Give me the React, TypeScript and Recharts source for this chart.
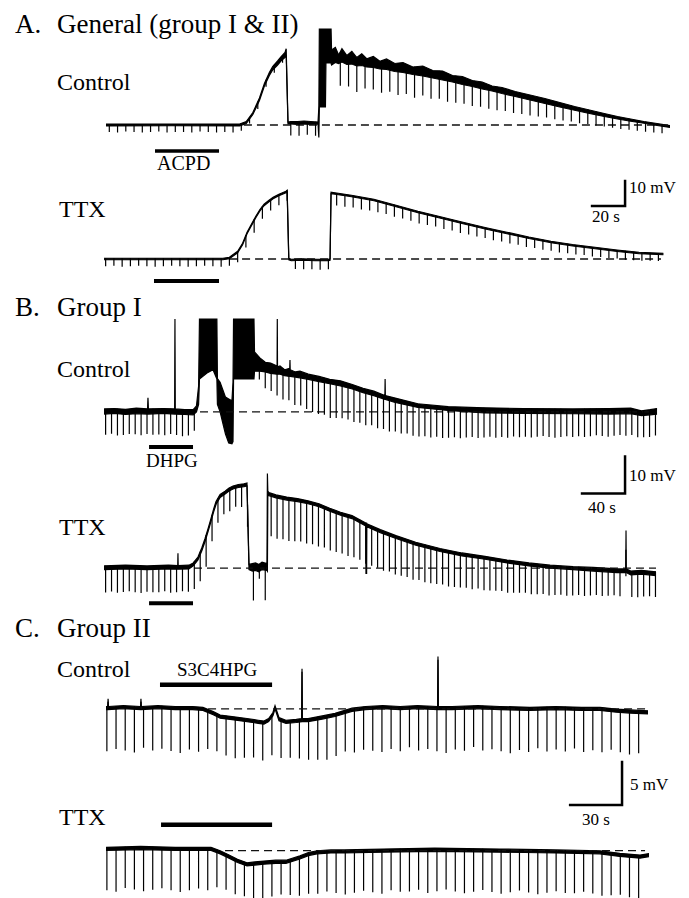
import React from "react";
import { ComposedChart, Area, Line, XAxis, YAxis } from "recharts";

const SERIF = "'Liberation Serif', 'Times New Roman', 'DejaVu Serif', serif";

// ---- A. General (group I & II): control ----  (time s, mV)
const aCtrlTime = [0, 40, 81, 85, 89, 93, 96, 99, 101, 104, 106, 108.5, 109.2, 110.3, 112, 116, 120, 124, 128.5, 129, 129.3, 133, 133.3, 136.4, 136.7, 139, 141, 143, 146, 149, 152, 155, 158, 162, 166, 170, 175, 180, 186, 192, 198, 204, 210, 216, 222, 228, 234, 240, 248, 257, 266, 275, 284, 293, 302, 310, 318, 326, 334, 342];
const aCtrlLow = [-0.4, -0.3, -0.4, 0.6, 4.2, 9.8, 15.6, 19.8, 22, 24, 25.6, 27, 28, 0.4, 0.4, 0.2, 0.4, 0.2, 0.4, -5, 7.2, 7.2, 24.8, 24.8, 24, 25, 24.6, 25.2, 24.2, 24.4, 23.6, 23.8, 23.2, 23, 22.4, 22.2, 21.4, 21, 20.2, 19.6, 18.8, 18, 17.2, 16.2, 15.4, 14.4, 13.6, 12.6, 11.4, 10, 8.6, 7.2, 5.9, 4.6, 3.4, 2.4, 1.5, 0.7, -0.2, -1];
const aCtrlHigh = [0.4, 0.4, 0.4, 1.4, 5, 10.8, 16.6, 21, 23.4, 25.6, 27.2, 29, 30.5, 1.2, 1.4, 1.4, 1.6, 1.4, 1.2, 7, 38.4, 38.4, 38.4, 38.4, 30, 31, 28, 30.5, 27.8, 29.5, 27, 28.5, 26.5, 27.4, 25.5, 26.4, 24.6, 25, 23.2, 23.6, 21.8, 21.6, 19.8, 19.4, 17.8, 17.2, 15.6, 15, 13.4, 12, 10.6, 9, 7.4, 6, 4.6, 3.4, 2.4, 1.4, 0.6, -0.3];
const aCtrlPulse = [3.2, 3.4, 3, 3.2, 3.4, 3.2, 3, 3.4, 3.2, 3.2, 3.4, 3, 3.2, 3.4, 3.2, 3.4, 3, 2.6, 3, 2.8, 3.2, 3, 5.6, 5.8, 5.4, 5.6, 0, 0, 13.5, 13, 13.8, 12.6, 13.2, 12.8, 12.4, 12.8, 12, 12.4, 11.8, 11.6, 11.2, 11.4, 10.8, 10.6, 10.2, 10, 9.6, 9.4, 9, 8.8, 8.4, 8.2, 7.8, 7.4, 7.2, 6.8, 6.4, 6.2, 5.8, 5.6, 5.2, 5, 4.8, 4.4, 4.2, 4, 3.8, 3.6];

// ---- A: TTX ----
const aTtxTime = [0, 72, 76, 81, 84, 86.7, 89.5, 92, 94.5, 97, 100, 102.5, 106, 110.3, 111, 112, 113.5, 120, 128, 136, 137, 137.6, 140, 150, 163.6, 177, 190.3, 204, 217.6, 231, 244.2, 257.5, 270.9, 284, 297.6, 311, 324.2, 339];
const aTtxValue = [0, 0, 0.4, 2.8, 6, 10.4, 13.8, 16.8, 19.5, 21.6, 23.2, 24.4, 25.6, 26.8, 27.2, 0, -0.4, -0.2, -0.4, -0.4, -0.2, 26.4, 26.2, 25.2, 23.6, 21.2, 18.8, 16.6, 14.4, 12.3, 10.4, 8.5, 6.8, 5.5, 4.4, 3.3, 2.4, 2];
const aTtxPulse = [3.2, 3, 3.4, 3.2, 3, 3.2, 3.4, 3.2, 3, 3.2, 3.4, 3.2, 3, 3.2, 3.4, 3.4, 4.4, 5, 5.4, 5, 4.6, 4.4, 4.2, 4, 4.2, 4, 4.2, 4, 5, 5, 4.8, 5, 4.8, 4.8, 4.6, 4.8, 4.6, 4.6, 4.8, 4.6, 4.4, 4.6, 4.4, 4.6, 4.4, 4.4, 4.2, 4.4, 4.2, 4.2, 4, 4.2, 4, 4, 3.8, 4, 3.8, 3.8, 3.6, 3.8, 3.6, 3.6, 3.4, 3.6, 3.4, 3.4, 3.2, 3.2];

// ---- B. Group I: control ----
const bCtrlTime = [0, 10, 20, 30, 40.5, 40.9, 41.3, 55, 65.7, 66, 66.3, 75, 83, 86, 88, 88.8, 95.8, 101.4, 105, 105.5, 108, 110.5, 113, 116, 119, 120, 120.5, 139.5, 140, 145, 150, 155, 161, 161.2, 161.4, 163.7, 168, 172.8, 173, 173.2, 178, 182.3, 190, 200, 210, 220, 231, 241, 251, 261.3, 261.5, 261.7, 270, 292, 320, 354, 390, 436, 470, 490, 500, 508, 514.5];
const bCtrlLow = [-0.6, -0.4, -0.7, -0.5, -0.6, -0.5, -0.6, -0.4, -0.6, -0.5, -0.6, -0.7, -0.8, 0, 2, 8.9, 10.5, 11.4, 8.9, 2, 0, -3, -6, -8.4, -8.6, -8, 8.9, 8.9, 11, 11, 10.8, 10.4, 10.2, 10.2, 10.2, 10.2, 9.8, 9.6, 9.6, 9.6, 9.4, 9.2, 8.8, 8.2, 7.6, 7, 6.2, 5.2, 4.4, 3.4, 3.4, 3.4, 2.6, 1.2, 0.4, -0.3, -0.4, -0.5, -0.6, -0.5, -1, -0.8, -0.6];
const bCtrlHigh = [0.8, 0.9, 0.7, 1, 0.8, 3.8, 0.8, 0.9, 0.8, 25.1, 0.8, 0.6, 0.6, 1.6, 7, 25.1, 25.1, 25.1, 25.1, 9, 8, 6, 4, 3.5, 3, 8, 25.1, 25.1, 16.2, 14.6, 13.4, 13.2, 12.4, 25.1, 12.2, 12.4, 11.4, 11.8, 14, 11.4, 10.8, 11, 10.2, 9.6, 8.8, 8.4, 7.4, 6.4, 5.6, 4.4, 8.9, 4.4, 3.8, 2.2, 1.4, 1.1, 0.9, 0.8, 0.9, 1, 0.3, 0.6, 0.9];
const bCtrlPulse = [7, 6.8, 7.2, 7, 6.8, 7, 7.2, 6.8, 7, 7, 7.2, 6.8, 7, 7.2, 7, 6, 0, 0, 0, 0, 0, 0, 0, 0, 0, 0, 6, 7, 7.5, 8, 8.4, 8.6, 9, 9.2, 9.6, 10, 10.2, 10, 10.4, 10.2, 10, 9.8, 10, 9.6, 9.8, 9.4, 9.6, 9.2, 9.4, 9, 9.2, 8.8, 9, 8.8, 8.6, 8.8, 8.4, 8.6, 8.4, 8.2, 8.4, 8.2, 8, 8.2, 8, 7.8, 8, 7.8, 8, 7.6, 7.8, 7.6, 7.8, 7.6, 7.4, 7.6, 7.8, 7.6, 7.4, 7.6, 7.4, 7.6, 7.4, 7.2, 7.4, 7.6, 7.4, 7.2, 7.4, 7.2, 7.4, 7.2, 7.4, 7.2];

// ---- B: TTX ----
const bTtxTime = [0, 20, 40, 60, 68.6, 68.8, 69, 79, 83, 87.4, 91, 94, 97, 99.5, 102, 104.2, 108, 112.6, 116, 120, 125, 130.2, 133, 134.9, 138, 141, 144, 147, 151.6, 152, 152.4, 153.5, 160, 170, 180, 189.8, 200, 210, 220, 230.7, 243.5, 243.7, 244.3, 244.5, 257, 271.6, 290, 312.6, 333, 354.4, 375, 395.3, 415, 436.3, 455, 477.2, 485.4, 485.6, 485.8, 490, 500, 513.5];
const bTtxLow = [-0.6, -0.4, -0.6, -0.4, -0.5, -0.5, -0.5, -0.4, 0.4, 2, 4.5, 7, 9.9, 12.4, 15, 17, 18.9, 19.8, 20.6, 21.2, 21.6, 21.8, 22, -0.6, -1, -0.8, -1.2, -0.6, -0.8, -1, 19.6, 19.4, 18.8, 18.2, 17.8, 17.2, 16.4, 15.2, 14.1, 13.2, 11.2, -1.6, -1.6, 11, 9.4, 7.8, 6, 4.3, 3.1, 2.2, 1.2, 0.4, -0.2, -0.6, -1, -1.4, -1.4, -1.4, -1.4, -2, -1.8, -2.2];
const bTtxHigh = [0.4, 0.6, 0.4, 0.6, 0.5, 3.8, 0.5, 0.6, 1.2, 2.8, 5.3, 7.8, 10.7, 13.2, 15.8, 17.8, 19.7, 20.6, 21.4, 22, 22.4, 22.6, 22.8, 0.8, 1, 1.2, 0.8, 1.4, 1, 25.4, 20.6, 20.2, 19.6, 19, 18.6, 18, 17.2, 16, 14.9, 14, 12, 12, 12, 11.8, 10.2, 8.6, 6.8, 5.1, 3.9, 3, 2, 1.2, 0.6, 0.2, 0, -0.4, -0.4, 10, -0.4, -1, -0.8, -1.2];
const bTtxPulse = [7.2, 7, 7.4, 7.2, 7, 7.2, 7.4, 7, 7.2, 7.2, 7, 7.4, 7.2, 7, 7.2, 7.4, 8, 8.6, 7.2, 6.6, 6, 6.4, 5.8, 6.2, 6, 10, 4, 10, 11.6, 11.8, 11.6, 11.8, 11.6, 11.4, 11.6, 11.4, 11.6, 11.2, 11.4, 11.2, 11, 11.2, 11, 10.8, 11, 10.8, 10.6, 10.8, 10.4, 10.6, 10.4, 10.2, 10.4, 10, 10.2, 10, 9.8, 9.6, 9.8, 9.6, 9.4, 9.2, 9.4, 9, 9.2, 9, 8.8, 8.6, 8.8, 8.6, 8.4, 8.2, 8.4, 8.2, 8, 8.2, 8, 7.8, 8, 7.8, 7.6, 7.8, 7.6, 7.4, 7.6, 7.4, 7.2, 7.4, 7.2, 7, 7.2, 7, 6.8, 6.8];

// ---- C. Group II: control ----
const cCtrlTime = [0, 1, 1.2, 1.4, 10, 20, 20.2, 20.4, 30, 40, 50, 56, 62, 66, 74, 81.5, 88, 91.3, 94, 96.5, 97.7, 99, 100, 104, 110, 113.1, 113.3, 113.5, 116.8, 125, 132.4, 142.2, 150, 160, 170, 180, 191.7, 191.9, 192.1, 200, 215, 227.7, 245, 260, 275, 285.5, 295, 302.9, 313.3];
const cCtrlValue = [0.1, 0.1, 1, 0.1, 0.2, 0.1, 1, 0.1, 0.2, 0.1, 0.1, 0, -0.5, -0.9, -1.1, -1.3, -1.5, -1.6, -1.3, -0.6, 0.2, -0.6, -1.2, -1.5, -1.4, -1.3, 4.5, -1.3, -1.3, -1, -0.7, -0.1, 0.1, 0.2, 0.1, 0.2, 0.1, 5.9, 0.1, 0.1, 0.2, 0.1, 0, 0.1, 0, 0, -0.2, -0.3, -0.4];
const cCtrlPulse = [5.2, 5, 5.2, 5.4, 4.8, 5.2, 5, 5.2, 5.4, 5, 5.2, 4.6, 4.4, 4.6, 4.8, 4.6, 4.4, 4.6, 4.8, 4.6, 4.4, 4.6, 4.8, 5, 5.2, 5, 4.8, 5.2, 5, 5.2, 5.4, 5, 5.2, 4.8, 5.2, 5, 5.2, 5.4, 5, 5.2, 4.8, 5.2, 5, 5.2, 5.4, 5, 5.2, 4.8, 5.2, 5, 5.2, 4.8, 5.2, 5, 5.2, 4.8, 5, 5.2, 5];

// ---- C: TTX ----
const cTtxTime = [0, 20, 40, 60.7, 66, 71.1, 76, 81.5, 86, 91.3, 98, 104, 112.1, 117, 122, 130, 137.6, 160, 190, 227.7, 260, 285.5, 297, 308.7, 314.5];
const cTtxValue = [0.2, 0.3, 0.2, 0.2, -0.2, -0.7, -1.2, -1.6, -1.5, -1.4, -1.3, -1.3, -0.8, -0.4, -0.2, -0.1, -0.1, 0, 0.1, 0, -0.1, -0.2, -0.5, -0.7, -0.5];
const cTtxPulse = [5, 5.2, 4.8, 5, 5.2, 5, 4.8, 5, 5.2, 5, 4.8, 5, 4.4, 4.2, 4.2, 4, 4.2, 4.4, 4.2, 4, 4.2, 4.6, 4.8, 5, 4.8, 5, 5.2, 5, 4.8, 5, 5.2, 4.8, 5, 5, 4.8, 5.2, 5, 4.8, 5, 5.2, 5, 4.8, 5, 5.2, 5, 4.8, 5, 5.2, 5, 4.8, 5, 5, 4.8, 5, 5.2, 5, 4.8, 5, 5];

function valueAt(ts: number[], vs: number[], t: number) {
  for (let i = 1; i < ts.length; i++) {
    if (t <= ts[i]) {
      const f = (t - ts[i - 1]) / (ts[i] - ts[i - 1]);
      return vs[i - 1] + f * (vs[i] - vs[i - 1]);
    }
  }
  return vs[vs.length - 1];
}

type Layout = { left: number; baseY: number; span: number; pxPerS: number; yMin: number; yMax: number; pxPerMv: number };

type TraceSpec = {
  time: number[];
  low: number[];
  high: number[];
  pulseStart: number;
  pulseEvery: number;
  pulseDepth: number[];
  dash: [number, number, number];
  drug: [number, number, number];
  drugWidth: number;
  scale?: [number, number, number, number];
  layout: Layout;
};

const traces: TraceSpec[] = [
  {
    time: aCtrlTime, low: aCtrlLow, high: aCtrlHigh,
    pulseStart: 2, pulseEvery: 5, pulseDepth: aCtrlPulse,
    dash: [83.6, 342, 0], drug: [29.7, 68.5, -10.4], drugWidth: 3.5,
    layout: { left: 106, baseY: 125, span: 342, pxPerS: 1.65, yMin: -14, yMax: 42, pxPerMv: 2.5 },
  },
  {
    time: aTtxTime, low: aTtxValue.map((v) => v - 0.3), high: aTtxValue.map((v) => v + 0.3),
    pulseStart: 1, pulseEvery: 5, pulseDepth: aTtxPulse,
    dash: [75.8, 337.6, 0], drug: [30.3, 69.7, -8.8], drugWidth: 4,
    scale: [295.8, 315.8, 21.2, 31.2],
    layout: { left: 104, baseY: 259, span: 340, pxPerS: 1.65, yMin: -12, yMax: 34, pxPerMv: 2.5 },
  },
  {
    time: bCtrlTime, low: bCtrlLow, high: bCtrlHigh,
    pulseStart: 1.5, pulseEvery: 5.5, pulseDepth: bCtrlPulse,
    dash: [89.3, 514, 0], drug: [41.9, 82.8, -9.5], drugWidth: 4,
    layout: { left: 104, baseY: 412, span: 515, pxPerS: 1.075, yMin: -11, yMax: 27, pxPerMv: 3.7 },
  },
  {
    time: bTtxTime, low: bTtxLow, high: bTtxHigh,
    pulseStart: 1.5, pulseEvery: 5.5, pulseDepth: bTtxPulse,
    dash: [83.7, 513.5, -0.2], drug: [41.9, 82.8, -9.7], drugWidth: 4,
    scale: [444.7, 484.7, 20, 30],
    layout: { left: 104, baseY: 567, span: 515, pxPerS: 1.075, yMin: -12, yMax: 32, pxPerMv: 3.7 },
  },
  {
    time: cCtrlTime, low: cCtrlValue.map((v) => v - 0.18), high: cCtrlValue.map((v) => v + 0.18),
    pulseStart: 0.5, pulseEvery: 5.3, pulseDepth: cCtrlPulse,
    dash: [59, 311.6, 0], drug: [31.2, 96, 2.8], drugWidth: 4.5,
    layout: { left: 106, baseY: 709, span: 314, pxPerS: 1.73, yMin: -6.5, yMax: 6.5, pxPerMv: 8.6 },
  },
  {
    time: cTtxTime, low: cTtxValue.map((v) => v - 0.18), high: cTtxValue.map((v) => v + 0.18),
    pulseStart: 0.5, pulseEvery: 5.3, pulseDepth: cTtxPulse,
    dash: [68.8, 311.6, 0], drug: [31.8, 96, 3.0], drugWidth: 4.5,
    scale: [268.3, 298.3, 5.3, 10.3],
    layout: { left: 106, baseY: 851, span: 314, pxPerS: 1.73, yMin: -6, yMax: 11, pxPerMv: 8.6 },
  },
];

const labels = [
  { text: "A.", x: 15, y: 33, size: 27 },
  { text: "General (group I & II)", x: 57, y: 33, size: 27 },
  { text: "Control", x: 57, y: 90, size: 24 },
  { text: "ACPD", x: 157, y: 170, size: 20 },
  { text: "TTX", x: 59, y: 217, size: 24 },
  { text: "10 mV", x: 629, y: 193, size: 17 },
  { text: "20 s", x: 592, y: 222, size: 17 },
  { text: "B.", x: 15, y: 316, size: 27 },
  { text: "Group I", x: 57, y: 316, size: 27 },
  { text: "Control", x: 57, y: 377, size: 24 },
  { text: "DHPG", x: 146, y: 467, size: 19 },
  { text: "10 mV", x: 629, y: 481, size: 17 },
  { text: "40 s", x: 588, y: 513, size: 17 },
  { text: "TTX", x: 59, y: 535, size: 24 },
  { text: "C.", x: 15, y: 637, size: 27 },
  { text: "Group II", x: 57, y: 637, size: 27 },
  { text: "Control", x: 57, y: 677, size: 24 },
  { text: "S3C4HPG", x: 177, y: 676, size: 19 },
  { text: "5 mV", x: 630, y: 790, size: 17 },
  { text: "30 s", x: 582, y: 825, size: 17 },
  { text: "TTX", x: 59, y: 825, size: 24 },
];

function Trace({ tr }: { tr: TraceSpec }) {
  const L = tr.layout;
  const width = L.span * L.pxPerS;
  const height = (L.yMax - L.yMin) * L.pxPerMv;
  const top = L.baseY - L.yMax * L.pxPerMv;

  const rows = tr.time.map((t, i) => ({ t, band: [tr.low[i], tr.high[i]] }));
  const pulses = tr.pulseDepth.flatMap((d, i) => {
    if (!d) return [];
    const t = tr.pulseStart + i * tr.pulseEvery;
    const v = valueAt(tr.time, tr.high, t);
    return [
      { t, p: v },
      { t, p: v - d },
      { t, p: null },
    ];
  });
  const dash = [
    { t: tr.dash[0], v: tr.dash[2] },
    { t: tr.dash[1], v: tr.dash[2] },
  ];
  const drug = [
    { t: tr.drug[0], v: tr.drug[2] },
    { t: tr.drug[1], v: tr.drug[2] },
  ];
  const scale = tr.scale
    ? [
        { t: tr.scale[0], v: tr.scale[2] },
        { t: tr.scale[1], v: tr.scale[2] },
        { t: tr.scale[1], v: tr.scale[3] },
      ]
    : [];

  return (
    <div style={{ position: "absolute", left: L.left, top }}>
      <ComposedChart width={width} height={height} data={rows} margin={{ top: 0, right: 0, bottom: 0, left: 0 }}>
        <XAxis type="number" dataKey="t" domain={[0, L.span]} hide allowDataOverflow />
        <YAxis type="number" domain={[L.yMin, L.yMax]} hide allowDataOverflow />
        <Line data={dash} dataKey="v" stroke="#111" strokeWidth={1.3} strokeDasharray="8 5" dot={false} isAnimationActive={false} />
        <Area dataKey="band" type="linear" stroke="#000" strokeWidth={1.2} fill="#000" fillOpacity={1} dot={false} activeDot={false} isAnimationActive={false} />
        <Line data={pulses} dataKey="p" stroke="#000" strokeWidth={1.2} dot={false} connectNulls={false} isAnimationActive={false} />
        <Line data={drug} dataKey="v" stroke="#000" strokeWidth={tr.drugWidth} dot={false} isAnimationActive={false} />
        {tr.scale && (
          <Line data={scale} dataKey="v" stroke="#000" strokeWidth={2.5} strokeLinecap="square" dot={false} isAnimationActive={false} />
        )}
      </ComposedChart>
    </div>
  );
}

export default function App() {
  return (
    <div style={{ position: "absolute", left: 0, top: 0, width: 689, height: 898, background: "#fff", overflow: "hidden" }}>
      {traces.map((tr, i) => (
        <Trace key={i} tr={tr} />
      ))}
      <svg width={689} height={898} style={{ position: "absolute", left: 0, top: 0, pointerEvents: "none" }}>
        {labels.map((l, i) => (
          <text key={i} x={l.x} y={l.y} fontSize={l.size} style={{ fontFamily: SERIF }} fill="#000">
            {l.text}
          </text>
        ))}
      </svg>
    </div>
  );
}
